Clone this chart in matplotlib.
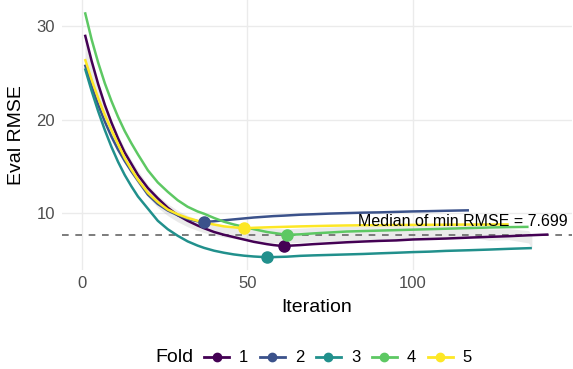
import matplotlib
matplotlib.use("Agg")
import matplotlib.pyplot as plt
import numpy as np
from matplotlib.lines import Line2D

plt.rcParams["font.family"] = ["Liberation Sans", "DejaVu Sans"]

# Boosting iterations shared by all folds (NaN where a fold already stopped)
iterations = [1, 3, 5, 7, 9, 11, 13, 15, 17, 20, 23, 26, 29, 32, 35, 37, 40, 43, 46, 49,
              52, 56, 58, 61, 62, 66, 70, 75, 80, 85, 90, 95, 100, 105, 110, 117, 123,
              129, 135, 136, 141]
nan = np.nan

fold_1 = [29.1, 26.3, 23.8, 21.6, 19.7, 18.0, 16.5, 15.3, 14.1, 12.7,
          11.6, 10.6, 9.8, 9.2, 8.7, 8.4, 8.0, 7.7, 7.45, 7.2,
          6.95, 6.7, 6.6, 6.49, 6.52, 6.6, 6.7, 6.8, 6.9, 6.98,
          7.05, 7.1, 7.2, 7.25, 7.3, 7.4, 7.48, 7.55, 7.65, 7.66, 7.73]
fold_2 = [25.9, 23.6, 21.6, 19.8, 18.2, 16.8, 15.6, 14.5, 13.5, 12.0,
          11.0, 10.3, 9.8, 9.4, 9.15, 9.07, 9.15, 9.25, 9.35, 9.45,
          9.55, 9.65, 9.7, 9.75, 9.77, 9.85, 9.9, 9.97, 10.02, 10.07,
          10.1, 10.15, 10.2, 10.23, 10.27, 10.32, nan, nan, nan, nan, nan]
fold_3 = [25.5, 23.1, 20.9, 18.9, 17.1, 15.5, 14.1, 12.9, 11.8, 10.5,
          9.2, 8.3, 7.6, 7.0, 6.55, 6.3, 6.0, 5.78, 5.6, 5.47,
          5.38, 5.3, 5.32, 5.35, 5.36, 5.45, 5.5, 5.55, 5.6, 5.65,
          5.72, 5.78, 5.85, 5.9, 5.98, 6.05, 6.12, 6.2, 6.27, 6.28, nan]
fold_4 = [31.5, 28.6, 26.1, 23.9, 22.0, 20.3, 18.8, 17.5, 16.3, 14.6,
          13.3, 12.3, 11.4, 10.7, 10.2, 9.95, 9.5, 9.1, 8.8, 8.55,
          8.3, 8.0, 7.9, 7.75, 7.699, 7.75, 7.85, 7.95, 8.05, 8.1,
          8.15, 8.2, 8.25, 8.3, 8.35, 8.42, 8.48, 8.52, 8.55, nan, nan]
fold_5 = [26.5, 24.3, 22.3, 20.5, 18.9, 17.4, 15.9, 14.7, 13.6, 12.2,
          11.2, 10.4, 9.9, 9.5, 9.2, 9.0, 8.8, 8.6, 8.5, 8.4,
          8.45, 8.5, 8.52, 8.55, 8.56, 8.6, 8.63, 8.67, 8.7, 8.72,
          8.73, 8.75, 8.76, 8.77, 8.78, 8.8, 8.8, 8.82, nan, nan, nan]

fold_labels = ["1", "2", "3", "4", "5"]
fold_colors = ["#440154", "#3B528B", "#21908C", "#5DC863", "#FDE725"]

x = np.array(iterations, dtype=float)
rmse = np.array([fold_1, fold_2, fold_3, fold_4, fold_5], dtype=float)

# Ribbon: mean +/- standard error over the folds still running
n_obs = np.sum(~np.isnan(rmse), axis=0)
mean = np.nanmean(rmse, axis=0)
sd = np.array([np.nanstd(rmse[:, i], ddof=1) if n_obs[i] > 1 else np.nan
               for i in range(len(x))])
se = sd / np.sqrt(n_obs)

best_idx = np.nanargmin(rmse, axis=1)
best_rmse = rmse[np.arange(len(fold_labels)), best_idx]
median_best = np.median(best_rmse)

W, H = 573, 369
fig = plt.figure(figsize=(W / 100, H / 100), dpi=100)
left, right, bottom, top = 61.8, 571.6, 269.5, 0.0
ax = fig.add_axes([left / W, 1 - bottom / H, (right - left) / W, (bottom - top) / H])

ax.fill_between(x, mean - se, mean + se, color="#999999", alpha=0.2, linewidth=0, zorder=1)
ax.axhline(median_best, color="#666666", linestyle=(0, (4, 4)), linewidth=1.2, zorder=2)

for vals, col in zip(rmse, fold_colors):
    ok = ~np.isnan(vals)
    ax.plot(x[ok], vals[ok], color=col, linewidth=1.8, zorder=3,
            solid_joinstyle="round", solid_capstyle="butt")
for i, col in enumerate(fold_colors):
    ax.plot(x[best_idx[i]], best_rmse[i], "o", color=col, markersize=8, zorder=4)

ax.text(115, median_best + 1.4, f"Median of min RMSE = {median_best:.3f}",
        ha="center", va="center", fontsize=11.5, color="black", zorder=5)

# ggplot-like limits: 5% expansion of the data range
x_span = x.max() - x.min()
ax.set_xlim(x.min() - 0.05 * x_span, x.max() + 0.05 * x_span)
y_lo, y_hi = np.nanmin(rmse), np.nanmax(rmse)
ax.set_ylim(y_lo - 0.05 * (y_hi - y_lo), y_hi + 0.05 * (y_hi - y_lo))

ax.set_xticks([0, 50, 100])
ax.set_yticks([10, 20, 30])
ax.grid(True, color="#EBEBEB", linewidth=1.0)
ax.set_axisbelow(True)
for s in ax.spines.values():
    s.set_visible(False)
ax.tick_params(length=0, labelsize=12, labelcolor="#4D4D4D", pad=5)

ax.set_xlabel("Iteration", fontsize=14, va="center")
ax.set_ylabel("Eval RMSE", fontsize=14, va="center")
ax.xaxis.set_label_coords(0.5, (bottom - 307) / (bottom - top))
ax.yaxis.set_label_coords((17 - left) / (right - left), 0.5)

handles = [Line2D([0], [0], color=c, linewidth=2.0, marker="o", markersize=6) for c in fold_colors]
fig.text(155 / W, 1 - 358 / H, "Fold", fontsize=14, ha="left", va="center")
fig.legend(handles, fold_labels, loc="center left", bbox_to_anchor=(204 / W, 1 - 358 / H),
           ncol=5, frameon=False, fontsize=12, handlelength=1.5, handletextpad=0.6,
           columnspacing=0.7, borderpad=0, borderaxespad=0)

fig.savefig("out.png", dpi=100)
